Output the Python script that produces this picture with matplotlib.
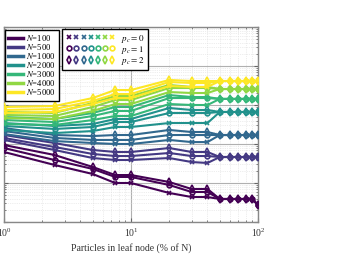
import matplotlib
matplotlib.use("Agg")
import matplotlib.pyplot as plt
from matplotlib.lines import Line2D
from matplotlib.legend_handler import HandlerTuple
import numpy as np

plt.rcParams['font.family'] = ['Liberation Serif', 'DejaVu Serif']
plt.rcParams['mathtext.fontset'] = 'stix'

# x: particles in leaf node (% of N)
leaf_pct = [1, 2.5, 5, 7.5, 10, 20, 30, 40, 50, 60, 70, 80, 90, 100]
n_values = [100, 500, 1000, 2000, 3000, 4000, 5000]
pc_values = [0, 1, 2]

# values for p=1..40 (first 8 points), per N, per p_c
head_pc0 = {
    100:  [0.0624, 0.0290, 0.0170, 0.0100, 0.0100, 0.00555, 0.00437, 0.00437],
    500:  [0.127, 0.0702, 0.0437, 0.0389, 0.0389, 0.0437, 0.0345, 0.0326],
    1000: [0.180, 0.119, 0.106, 0.100, 0.100, 0.127, 0.112, 0.112],
    2000: [0.229, 0.191, 0.215, 0.273, 0.273, 0.345, 0.345, 0.345],
    3000: [0.326, 0.307, 0.412, 0.523, 0.523, 1.06, 1.00, 1.00],
    4000: [0.464, 0.437, 0.702, 1.06, 1.06, 2.15, 2.03, 2.03],
    5000: [0.624, 0.662, 1.06, 1.51, 1.51, 3.07, 2.90, 2.90],
}
head_pc1 = {
    100:  [0.0788, 0.0389, 0.0229, 0.0143, 0.0143, 0.00889, 0.00588, 0.00588],
    500:  [0.143, 0.0838, 0.0555, 0.0492, 0.0492, 0.0588, 0.0492, 0.0492],
    1000: [0.215, 0.143, 0.127, 0.127, 0.127, 0.170, 0.170, 0.170],
    2000: [0.290, 0.243, 0.273, 0.366, 0.366, 0.624, 0.624, 0.624],
    3000: [0.412, 0.366, 0.523, 0.702, 0.702, 1.51, 1.51, 1.51],
    4000: [0.555, 0.523, 0.889, 1.34, 1.34, 2.73, 2.73, 2.73],
    5000: [0.745, 0.788, 1.27, 1.91, 1.91, 3.89, 3.66, 3.66],
}
head_pc2 = {
    100:  [0.0942, 0.0523, 0.0257, 0.0160, 0.0160, 0.0106, 0.00702, 0.00702],
    500:  [0.170, 0.106, 0.0702, 0.0624, 0.0624, 0.0788, 0.0624, 0.0624],
    1000: [0.257, 0.170, 0.160, 0.170, 0.170, 0.229, 0.203, 0.203],
    2000: [0.345, 0.290, 0.326, 0.437, 0.437, 0.838, 0.745, 0.745],
    3000: [0.492, 0.437, 0.624, 0.889, 0.889, 1.80, 1.60, 1.60],
    4000: [0.662, 0.624, 1.13, 1.70, 1.70, 3.26, 2.90, 2.90],
    5000: [0.889, 0.942, 1.51, 2.42, 2.42, 4.38, 4.12, 4.12],
}
# shared values for p=50..100
tail = {
    100:  [0.00389, 0.00389, 0.00389, 0.00389, 0.00389, 0.00273],
    500:  [0.0464, 0.0464, 0.0464, 0.0464, 0.0464, 0.0464],
    1000: [0.170, 0.170, 0.170, 0.170, 0.170, 0.170],
    2000: [0.662, 0.662, 0.662, 0.662, 0.662, 0.662],
    3000: [1.43, 1.43, 1.43, 1.43, 1.43, 1.43],
    4000: [2.57, 2.57, 2.57, 2.57, 2.57, 2.57],
    5000: [4.12, 4.12, 4.12, 4.12, 4.12, 4.12],
}

heads = [head_pc0, head_pc1, head_pc2]
markers = ['x', 'o', 'd']
msizes = [3.0, 3.4, 3.8]
colors = plt.cm.viridis(np.linspace(0, 1, len(n_values)))

fig = plt.figure(figsize=(3.41, 2.60), dpi=100)
W, H = 341, 260
ax = fig.add_axes([4 / W, (H - 222) / H, (258 - 4) / W, (222 - 27) / H])

for i, n in enumerate(n_values):
    for j, pc in enumerate(pc_values):
        y = heads[j][n] + tail[n]
        ax.plot(leaf_pct, y, color=colors[i], lw=1.5, marker=markers[j],
                ms=msizes[j], mfc='none', mew=1.2, zorder=3)

ax.set_xscale('log')
ax.set_yscale('log')
ax.set_xlim(1, 100)
ax.set_ylim(1e-3, 1e2)
ax.grid(True, which='major', color='#b0b0b0', lw=0.8, ls='-')
ax.grid(True, which='minor', color='#dcdcdc', lw=0.5, ls=':')
ax.set_axisbelow(True)
ax.tick_params(which='both', direction='in', top=True, right=True,
               colors='#666666', labelcolor='#333333', labelsize=7)
ax.tick_params(which='major', length=3)
ax.tick_params(which='minor', length=1.5)
for s in ax.spines.values():
    s.set_color('#888888')
    s.set_linewidth(1.0)
ax.set_xlabel('Particles in leaf node (% of N)', fontsize=7, color='#333333', labelpad=3)

# legend 1: N values
h1 = [Line2D([], [], color=colors[i], lw=2.5) for i in range(len(n_values))]
l1 = [r'$N$=%d' % n for n in n_values]
leg1 = ax.legend(h1, l1, loc='upper left', bbox_to_anchor=(0.004, 0.985),
                 borderaxespad=0, fontsize=6.2, handlelength=1.7, handletextpad=0.3,
                 labelspacing=-0.12, fancybox=False, framealpha=1, edgecolor='black',
                 borderpad=0.4)
leg1.get_frame().set_linewidth(1.0)
ax.add_artist(leg1)

# legend 2: p_c markers
h2 = []
for j in range(len(pc_values)):
    h2.append(tuple(Line2D([], [], color=colors[i], ls='none', marker=markers[j],
                           ms=msizes[j], mfc='none', mew=1.2) for i in range(len(n_values))))
l2 = [r'$p_c = %d$' % pc for pc in pc_values]
leg2 = ax.legend(h2, l2, loc='upper left', bbox_to_anchor=(0.228, 0.99),
                 borderaxespad=0, fontsize=6.5, handlelength=5.6, handletextpad=0.5,
                 labelspacing=-0.1, fancybox=False, framealpha=1, edgecolor='black',
                 borderpad=0.4,
                 handler_map={tuple: HandlerTuple(ndivide=None, pad=0.0)})
leg2.get_frame().set_linewidth(1.0)

fig.savefig('out.png', dpi=100)
